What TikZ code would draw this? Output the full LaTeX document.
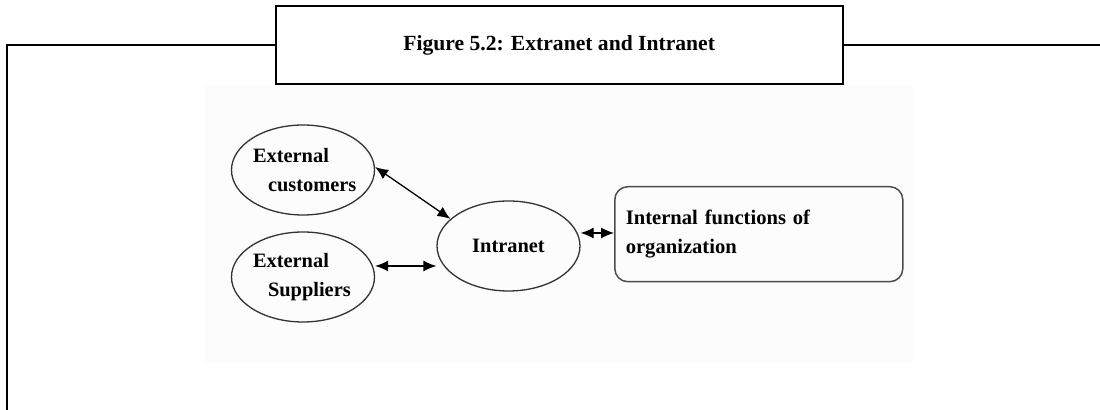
\documentclass[tikz,border=0pt]{standalone}
\usepackage{fontspec}
\setmainfont{Liberation Serif}
\usetikzlibrary{shapes.geometric,arrows.meta}

\begin{document}
\begin{tikzpicture}[x = 0.5pt, y = -0.5pt, line width = 1pt,
    ell/.style = {ellipse, draw = black!80, line width = 0.65pt, inner sep = 0pt,
        minimum width = 71.5pt, minimum height = 45pt,
        font = \fontsize{10.2}{14.5}\selectfont\bfseries},
    biarrow/.style = {{Latex[length=6.5pt,width=5.5pt]}-{Latex[length=6.5pt,width=5.5pt]}, line width = 0.65pt}]
\useasboundingbox (0,0) rectangle (1100,410);
\fill[black!1] (205,85) rectangle (913,363);
\draw (559.2,45) node[rectangle, draw, inner sep = 0pt, minimum width = 283.5pt, minimum height = 39.2pt,
        font = \fontsize{10.8}{13}\selectfont\bfseries](t1){Figure 5.2: Extranet and Intranet}
    (303,170) node[ell, text width = 50pt, align = left](e1){External\\\hspace*{7.5pt}\mbox{customers}}
    (303,277) node[ell, text width = 50pt, align = left](e2){External\\\hspace*{7.5pt}\mbox{Suppliers}}
    (508.5,246) node[ell](i1){Intranet}
    (758.8,234.2) node[rectangle, rounded corners = 6.5pt, draw = black!70, line width = 0.75pt,
        minimum width = 144pt, minimum height = 47.5pt, inner xsep = 5.5pt, text width = 133pt, align = left,
        font = \fontsize{10.3}{14.5}\selectfont\bfseries](f1){Internal functions of\\organization\par\vspace*{7pt}};
% frame
\coordinate (c1) at (6.5,45);
\coordinate (c2) at (6.5,410);
\coordinate (c3) at (1100,45);
\draw (t1.west) -- (c1) -- (c2);
\draw (t1.east) -- (c3);
% arrows
\draw [biarrow] ([yshift=1.5pt]e1.east) -- (i1.155);
\draw [biarrow] ([yshift=5.5pt]e2.east) -- ([yshift=5.5pt]e2.east -| i1.west);
\draw [biarrow] ([yshift=6.5pt]i1.east) -- ([yshift=6.5pt]i1.east -| f1.west);
\end{tikzpicture}
\end{document}
